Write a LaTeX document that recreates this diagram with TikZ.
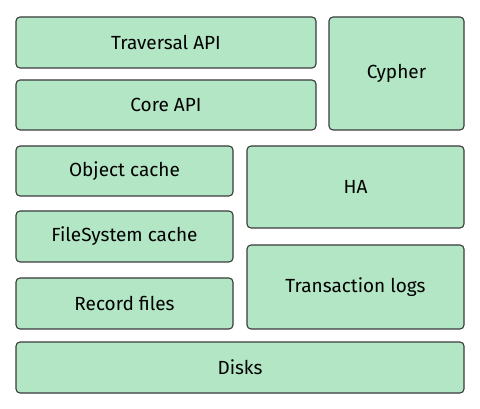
\documentclass[tikz,border=0pt]{standalone}
\usepackage{fontspec}
\setmainfont{Fira Sans}
\definecolor{boxfill}{HTML}{B2E6C4}
\definecolor{boxline}{HTML}{3A3A3A}
\begin{document}
\begin{tikzpicture}[x=1pt,y=-1pt,
  layer/.style={draw=boxline,fill=boxfill,line width=1.1pt,rounded corners=4pt},
  lbl/.style={font=\fontsize{19}{21}\selectfont,text=black}]
\useasboundingbox (0,0) rectangle (480,409);
\draw[layer] (16,17) rectangle (316,68) node[lbl,midway] (trav) {Traversal API};
\draw[layer] (16,80) rectangle (316,130) node[lbl,midway] (core) {Core API};
\draw[layer] (329,17) rectangle (464,130) node[lbl,midway] (cyph) {Cypher};
\draw[layer] (16,146) rectangle (233,196) node[lbl,midway] (obj) {Object cache};
\draw[layer] (247,146) rectangle (464,228) node[lbl,midway] (ha) {HA};
\draw[layer] (16,211) rectangle (233,262) node[lbl,midway] (fs) {FileSystem cache};
\draw[layer] (247,245) rectangle (464,329) node[lbl,midway] (tx) {Transaction logs};
\draw[layer] (16,278) rectangle (233,329) node[lbl,midway] (rec) {Record files};
\draw[layer] (16,342) rectangle (464,393) node[lbl,midway] (disk) {Disks};
\end{tikzpicture}
\end{document}
